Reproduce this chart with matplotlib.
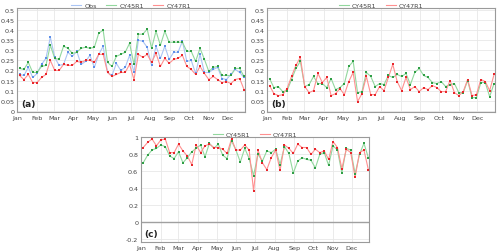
import matplotlib
matplotlib.use("Agg")
import matplotlib.pyplot as plt
import numpy as np

plt.rcParams['font.family'] = ['DejaVu Sans']

# ---- data (weekly values, 52 weeks) ----
months = ["Jan", "Feb", "Mar", "Apr", "May", "Jun", "Jul", "Aug", "Sep", "Oct", "Nov", "Dec"]
month_start_days = [0, 31, 59, 90, 120, 151, 181, 212, 243, 273, 304, 334]
week_days = [3.5 + 7 * i for i in range(52)]

a_obs = [0.18, 0.175, 0.215, 0.165, 0.185, 0.23, 0.26, 0.365, 0.265, 0.225,
         0.23, 0.29, 0.27, 0.295, 0.23, 0.245, 0.275, 0.215, 0.28, 0.32,
         0.19, 0.175, 0.235, 0.20, 0.215, 0.275, 0.19, 0.35, 0.345, 0.315,
         0.225, 0.32, 0.26, 0.32, 0.255, 0.29, 0.29, 0.345, 0.245, 0.25,
         0.185, 0.28, 0.19, 0.19, 0.205, 0.215, 0.16, 0.155, 0.18, 0.205,
         0.19, 0.165]
a_cy45 = [0.21, 0.205, 0.24, 0.19, 0.19, 0.22, 0.225, 0.325, 0.26, 0.255,
          0.32, 0.31, 0.285, 0.29, 0.31, 0.315, 0.31, 0.315, 0.385, 0.40,
          0.24, 0.22, 0.27, 0.28, 0.29, 0.335, 0.23, 0.38, 0.38, 0.405,
          0.31, 0.395, 0.325, 0.395, 0.34, 0.34, 0.34, 0.34, 0.295, 0.295,
          0.245, 0.31, 0.255, 0.195, 0.215, 0.22, 0.175, 0.175, 0.175, 0.21,
          0.21, 0.17]
a_cy47 = [0.175, 0.155, 0.18, 0.14, 0.14, 0.165, 0.18, 0.25, 0.20, 0.20,
          0.23, 0.225, 0.225, 0.245, 0.24, 0.25, 0.25, 0.24, 0.28, 0.28,
          0.19, 0.17, 0.18, 0.19, 0.19, 0.23, 0.155, 0.28, 0.265, 0.28,
          0.24, 0.285, 0.22, 0.26, 0.235, 0.255, 0.26, 0.275, 0.22, 0.205,
          0.18, 0.22, 0.185, 0.155, 0.17, 0.155, 0.14, 0.145, 0.135, 0.155,
          0.16, 0.105]

b_cy45 = [0.16, 0.115, 0.12, 0.095, 0.10, 0.155, 0.21, 0.245, 0.12, 0.13,
          0.17, 0.135, 0.135, 0.115, 0.16, 0.105, 0.115, 0.135, 0.22, 0.245,
          0.09, 0.095, 0.19, 0.17, 0.12, 0.135, 0.13, 0.175, 0.165, 0.18,
          0.17, 0.185, 0.13, 0.19, 0.21, 0.175, 0.165, 0.14, 0.135, 0.145,
          0.12, 0.13, 0.135, 0.09, 0.09, 0.15, 0.065, 0.065, 0.14, 0.14,
          0.07, 0.135]
b_cy47 = [0.125, 0.085, 0.075, 0.08, 0.11, 0.17, 0.225, 0.265, 0.12, 0.09,
          0.10, 0.185, 0.14, 0.165, 0.075, 0.085, 0.11, 0.08, 0.145, 0.19,
          0.045, 0.085, 0.17, 0.08, 0.08, 0.12, 0.10, 0.165, 0.23, 0.145,
          0.10, 0.165, 0.105, 0.12, 0.095, 0.115, 0.105, 0.125, 0.115, 0.095,
          0.095, 0.15, 0.09, 0.075, 0.095, 0.155, 0.075, 0.08, 0.155, 0.145,
          0.10, 0.18]

c_cy45 = [0.70, 0.79, 0.85, 0.87, 0.91, 0.89, 0.78, 0.75, 0.83, 0.70,
          0.76, 0.83, 0.87, 0.91, 0.77, 0.93, 0.87, 0.92, 0.79, 0.75,
          0.96, 0.85, 0.71, 0.87, 0.75, 0.55, 0.80, 0.72, 0.84, 0.82,
          0.86, 0.68, 0.89, 0.81, 0.58, 0.72, 0.76, 0.74, 0.73, 0.64,
          0.80, 0.82, 0.67, 0.90, 0.85, 0.58, 0.87, 0.85, 0.57, 0.80,
          0.93, 0.76]
c_cy47 = [0.88, 0.94, 0.98, 0.90, 0.97, 0.98, 0.82, 0.82, 0.92, 0.84,
          0.78, 0.68, 0.91, 0.82, 0.90, 0.92, 0.88, 0.88, 0.86, 0.81,
          0.98, 0.85, 0.85, 0.91, 0.85, 0.37, 0.85, 0.70, 0.62, 0.76,
          0.85, 0.61, 0.91, 0.87, 0.81, 0.92, 0.88, 0.88, 0.80, 0.86,
          0.82, 0.84, 0.74, 0.95, 0.88, 0.63, 0.86, 0.82, 0.53, 0.82,
          0.85, 0.62]

ab_yticks = [0, 0.05, 0.1, 0.15, 0.2, 0.25, 0.3, 0.35, 0.4, 0.45, 0.5]
ab_yticklabels = ["0", "0.05", "0.1", "0.15", "0.2", "0.25", "0.3", "0.35", "0.4", "0.45", "0.5"]
c_yticks = [-0.2, 0, 0.2, 0.4, 0.6, 0.8, 1]
c_yticklabels = ["-0.2", "0", "0.2", "0.4", "0.6", "0.8", "1"]

# ---- styles ----
styles = {
    "Obs": dict(line="#aac5f4", mark="#5d8ee8"),
    "CY45R1": dict(line="#92d89e", mark="#2f9e45"),
    "CY47R1": dict(line="#ff9090", mark="#e8262b"),
}
FS = 4.6

fig = plt.figure(figsize=(5.0, 2.53), dpi=100)

def setup(ax, ylim, yticks, yticklabels, tag):
    ax.set_xlim(0, 362)
    ax.set_ylim(*ylim)
    ax.set_xticks(month_start_days)
    ax.set_xticklabels(months, fontsize=FS, color="#444444")
    ax.set_yticks(yticks)
    ax.set_yticklabels(yticklabels, fontsize=FS, color="#444444")
    ax.tick_params(length=0, pad=2)
    ax.grid(True, color="#e8e8e8", linewidth=0.6)
    ax.set_axisbelow(True)
    for s in ax.spines.values():
        s.set_color("#9a9a9a")
        s.set_linewidth(0.8)
    ax.text(0.016, 0.04, tag, transform=ax.transAxes, fontsize=6.5,
            fontweight="bold", color="#222222", va="bottom", ha="left")

def plot_series(ax, y, name):
    st = styles[name]
    ax.plot(week_days, y, color=st["line"], linewidth=0.8, label=name, zorder=2)
    ax.plot(week_days, y, linestyle="none", marker="s", markersize=1.5,
            markeredgewidth=0, color=st["mark"], zorder=3)

def legend(ax, ncol):
    ax.legend(loc="lower center", bbox_to_anchor=(0.5, 0.99), ncol=ncol,
              frameon=False, fontsize=FS, handlelength=1.6, handletextpad=0.5,
              columnspacing=1.4, borderpad=0.1, borderaxespad=0.0,
              labelcolor="#444444")

ax_a = fig.add_axes([0.0346, 0.552, 0.4554, 0.4124])
plot_series(ax_a, a_obs, "Obs")
plot_series(ax_a, a_cy45, "CY45R1")
plot_series(ax_a, a_cy47, "CY47R1")
setup(ax_a, (-0.008, 0.51), ab_yticks, ab_yticklabels, "(a)")
legend(ax_a, 3)

ax_b = fig.add_axes([0.5346, 0.552, 0.4554, 0.4124])
plot_series(ax_b, b_cy45, "CY45R1")
plot_series(ax_b, b_cy47, "CY47R1")
setup(ax_b, (-0.008, 0.51), ab_yticks, ab_yticklabels, "(b)")
legend(ax_b, 2)

ax_c = fig.add_axes([0.282, 0.0383, 0.4566, 0.4174])
plot_series(ax_c, c_cy45, "CY45R1")
plot_series(ax_c, c_cy47, "CY47R1")
setup(ax_c, (-0.235, 1.007), c_yticks, c_yticklabels, "(c)")
ax_c.axhline(0, color="#a0a0a0", linewidth=1.0, zorder=1)
legend(ax_c, 2)

fig.savefig("out.png", dpi=100)
